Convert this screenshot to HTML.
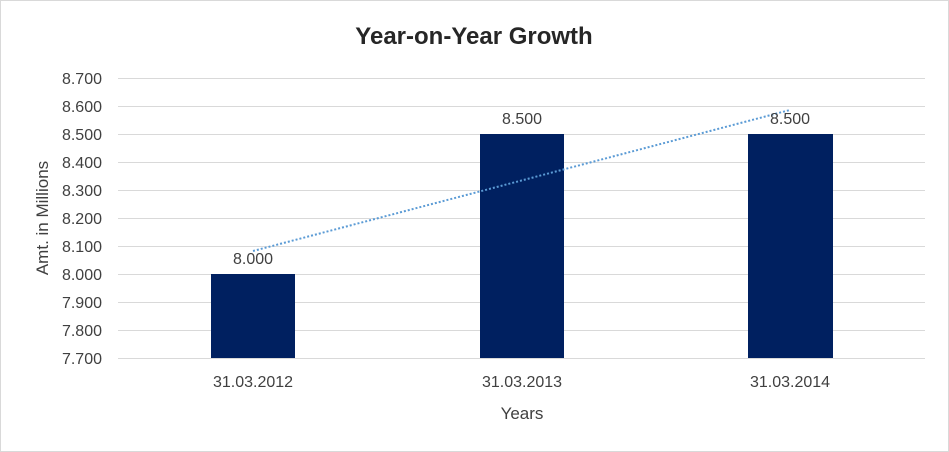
<!DOCTYPE html>
<html><head><style>
body{margin:0;background:#fff;}
svg{display:block;font-family:"Liberation Sans",Calibri,sans-serif;}
</style></head><body>
<svg width="949" height="452" viewBox="0 0 949 452">
<rect x="0.5" y="0.5" width="948" height="451" fill="#fff" stroke="#d9d9d9"/>
<text x="474" y="44" text-anchor="middle" font-size="24" font-weight="bold" fill="#262626">Year-on-Year Growth</text>
<g stroke="#d9d9d9" stroke-width="1">
<line x1="118" x2="925" y1="78.5" y2="78.5"/>
<line x1="118" x2="925" y1="106.5" y2="106.5"/>
<line x1="118" x2="925" y1="134.5" y2="134.5"/>
<line x1="118" x2="925" y1="162.5" y2="162.5"/>
<line x1="118" x2="925" y1="190.5" y2="190.5"/>
<line x1="118" x2="925" y1="218.5" y2="218.5"/>
<line x1="118" x2="925" y1="246.5" y2="246.5"/>
<line x1="118" x2="925" y1="274.5" y2="274.5"/>
<line x1="118" x2="925" y1="302.5" y2="302.5"/>
<line x1="118" x2="925" y1="330.5" y2="330.5"/>
<line x1="118" x2="925" y1="358.5" y2="358.5"/>
</g>
<g font-size="16" fill="#404040" text-anchor="end">
<text x="102" y="84">8.700</text>
<text x="102" y="112">8.600</text>
<text x="102" y="140">8.500</text>
<text x="102" y="168">8.400</text>
<text x="102" y="196">8.300</text>
<text x="102" y="224">8.200</text>
<text x="102" y="252">8.100</text>
<text x="102" y="280">8.000</text>
<text x="102" y="308">7.900</text>
<text x="102" y="336">7.800</text>
<text x="102" y="364">7.700</text>
</g>
<g fill="#002060">
<rect x="211" y="274" width="84" height="84"/>
<rect x="480" y="134" width="84" height="224"/>
<rect x="748" y="134" width="85" height="224"/>
</g>
<line x1="253" y1="251" x2="790" y2="110" stroke="#5b9bd5" stroke-width="2" stroke-dasharray="2,2"/>
<g font-size="16" fill="#404040" text-anchor="middle">
<text x="253" y="264">8.000</text>
<text x="522" y="124">8.500</text>
<text x="790" y="124">8.500</text>
<text x="253" y="387">31.03.2012</text>
<text x="522" y="387">31.03.2013</text>
<text x="790" y="387">31.03.2014</text>
<text x="522" y="419" font-size="17">Years</text>
</g>
<text transform="translate(48,218) rotate(-90)" text-anchor="middle" font-size="17" fill="#404040">Amt. in Millions</text>
</svg>
</body></html>
